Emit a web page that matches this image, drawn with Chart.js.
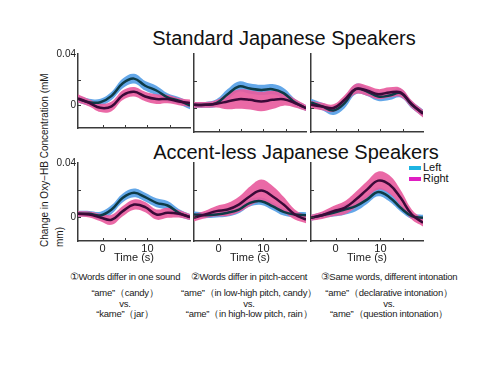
<!DOCTYPE html>
<html>
<head>
<meta charset="utf-8">
<script src="https://cdn.jsdelivr.net/npm/chart.js@4.4.0/dist/chart.umd.min.js"></script>
<style>
  body { margin: 0; background: #fff; }
  #wrap { position: relative; width: 500px; height: 367px; overflow: hidden; font-family: "Liberation Sans", Arial, sans-serif; color: #111; }
  canvas.panel { position: absolute; }
  .title { position: absolute; font-size: 20px; white-space: nowrap; transform: translate(-50%, -50%); color: #111; }
  .ylab { position: absolute; left: 37px; top: 247px; width: 220px; font-size: 10px; line-height: 15px; white-space: nowrap; transform-origin: 0 0; transform: rotate(-90deg); color: #1a1a1a; }
  .leg { position: absolute; font-size: 11px; white-space: nowrap; color: #111; }
  .leg span { display: inline-block; width: 12px; height: 4px; vertical-align: middle; margin-right: 2px; }
  .cap { position: absolute; width: 180px; text-align: center; font-size: 9.5px; letter-spacing: -0.25px; white-space: nowrap; color: #1a1a1a; }
  .cap .head { line-height: 12px; height: 17px; }
  .cap .sub { line-height: 10.5px; }
</style>
</head>
<body>
<div id="wrap">
  <div class="title" style="left:284px; top:38px;">Standard Japanese Speakers</div>
  <div class="title" style="left:296px; top:152px;">Accent-less Japanese Speakers</div>
  <div class="ylab">Change in Oxy−HB Concentration (mM<br>mm)</div>
  <div class="leg" style="left:409px; top:161px;"><span style="background:#1db4e2"></span>Left</div>
  <div class="leg" style="left:409px; top:172px;"><span style="background:#e01ec2"></span>Right</div>
  <div class="cap" style="left:35px; top:271px;">
    <div class="head">①Words differ in one sound</div>
    <div class="sub">“ame”（candy）<br>vs.<br>“kame”（jar）</div>
  </div>
  <div class="cap" style="left:159px; top:271px;">
    <div class="head">②Words differ in pitch-accent</div>
    <div class="sub">“ame”（in low-high pitch, candy）<br>vs.<br>“ame”（in high-low pitch, rain）</div>
  </div>
  <div class="cap" style="left:299px; top:271px;">
    <div class="head">③Same words, different intonation</div>
    <div class="sub">“ame”（declarative intonation）<br>vs.<br>“ame”（question intonation）</div>
  </div>
</div>
<script>
// Time points (s)
const times = [-5.5, -3, -0.5, 2, 4.5, 7, 9.5, 12, 14.5, 17, 19.5];

// Standard Japanese speakers - mean change and band half-width
const stdLeft1 = [0.0047, 0.0022, 0.0022, 0.0072, 0.017, 0.0207, 0.0151, 0.0114, 0.006, 0.0035, -0.0005];
const stdRight1 = [0.0052, 0.0017, -0.0022, -0.001, 0.0077, 0.0104, 0.0067, 0.0047, 0.0047, 0.0027, 0.0015];
const stdSpreadL1 = [0.0028, 0.0028, 0.0028, 0.0033, 0.0038, 0.0038, 0.0038, 0.0038, 0.0033, 0.0028, 0.0028];
const stdSpreadR1 = [0.0033, 0.0028, 0.0033, 0.0038, 0.0038, 0.0038, 0.0038, 0.0038, 0.0033, 0.0028, 0.0028];

const stdLeft2 = [0.0022, 0.0022, 0.0035, 0.0101, 0.0158, 0.0143, 0.0133, 0.0138, 0.0109, 0.004, -0.0002];
const stdRight2 = [0.0022, 0.0022, 0.003, 0.0047, 0.0064, 0.0059, 0.0047, 0.0059, 0.0064, 0.0035, -0.0002];
const stdSpreadL2 = [0.0022, 0.0022, 0.0028, 0.0038, 0.0038, 0.0038, 0.0038, 0.0038, 0.0038, 0.0028, 0.0022];
const stdSpreadR2 = [0.0022, 0.0022, 0.0028, 0.0058, 0.0072, 0.0072, 0.0072, 0.0068, 0.0048, 0.0032, 0.0022];

const stdLeft3 = [0.004, 0.001, -0.002, 0.0035, 0.0138, 0.0121, 0.0084, 0.0091, 0.0109, 0.0022, -0.004];
const stdRight3 = [0.0022, 0.001, -0.0002, 0.006, 0.014, 0.0128, 0.0101, 0.0114, 0.0114, 0.0027, -0.0044];
const stdSpreadL3 = [0.0028, 0.0028, 0.0033, 0.0038, 0.0038, 0.0033, 0.0033, 0.0033, 0.0033, 0.0028, 0.0028];
const stdSpreadR3 = [0.0028, 0.0028, 0.0028, 0.0033, 0.0038, 0.0038, 0.0038, 0.0038, 0.0033, 0.0028, 0.0028];

// Accent-less Japanese speakers
const accLeft1 = [0.0022, 0.0022, 0.001, 0.0054, 0.0141, 0.0178, 0.0146, 0.0104, 0.0084, 0.003, -0.0002];
const accRight1 = [0.0022, 0.0017, -0.0005, -0.0022, 0.0042, 0.0091, 0.0072, 0.0017, 0.003, 0.0022, -0.0002];
const accSpreadL1 = [0.0022, 0.0022, 0.0028, 0.0033, 0.0033, 0.0033, 0.0033, 0.0033, 0.0033, 0.0028, 0.0022];
const accSpreadR1 = [0.0022, 0.0022, 0.0028, 0.0038, 0.0038, 0.0038, 0.0038, 0.0038, 0.0038, 0.0028, 0.0022];

const accLeft2 = [0.0017, 0.0012, 0.0017, 0.003, 0.0054, 0.0104, 0.0116, 0.0079, 0.0037, 0.0017, 0.0012];
const accRight2 = [-0.0007, 0.0017, 0.0042, 0.0054, 0.0091, 0.0153, 0.0195, 0.0153, 0.0091, 0.0017, -0.002];
const accSpreadL2 = [0.0022, 0.0022, 0.0022, 0.0028, 0.0028, 0.0028, 0.0028, 0.0028, 0.0028, 0.0022, 0.0022];
const accSpreadR2 = [0.0028, 0.0028, 0.0038, 0.0048, 0.0058, 0.0072, 0.0082, 0.0078, 0.0058, 0.0038, 0.0028];

const accLeft3 = [-0.0007, 0.0012, 0.003, 0.0054, 0.0079, 0.0128, 0.0185, 0.0146, 0.0067, 0.0005, -0.0007];
const accRight3 = [-0.0007, 0.0012, 0.0042, 0.0067, 0.0128, 0.0202, 0.0269, 0.024, 0.0141, 0.0017, -0.0044];
const accSpreadL3 = [0.0022, 0.0022, 0.0028, 0.0038, 0.0038, 0.0033, 0.0033, 0.0033, 0.0028, 0.0022, 0.0022];
const accSpreadR3 = [0.0022, 0.0028, 0.0038, 0.0048, 0.0058, 0.0062, 0.0068, 0.0068, 0.0058, 0.0038, 0.0028];

// Axis ticks
const xTickLabels = [0, 10];
const xTickMarks = [0, 5, 10, 15];
const yTickLabels = [0, 0.04];
const yTickMarks = [0.02, 0];

const BLUE_BAND = 'rgba(86,160,230,0.92)';
const PINK_BAND = 'rgba(232,92,158,0.92)';
const LEFT_LINE = '#0e3b46';
const RIGHT_LINE = '#3a0a38';

// Panel layout: chart area left/top in page px, 112 x 78 each
const panels = [
    { left: 78, top: 54, bottom: false, yLabels: true, L: stdLeft1, R: stdRight1, sL: stdSpreadL1, sR: stdSpreadR1 },
    { left: 194, top: 54, bottom: false, yLabels: false, L: stdLeft2, R: stdRight2, sL: stdSpreadL2, sR: stdSpreadR2 },
    { left: 311, top: 54, bottom: false, yLabels: false, L: stdLeft3, R: stdRight3, sL: stdSpreadL3, sR: stdSpreadR3 },
    { left: 78, top: 163, bottom: true, yLabels: true, L: accLeft1, R: accRight1, sL: accSpreadL1, sR: accSpreadR1 },
    { left: 194, top: 163, bottom: true, yLabels: false, L: accLeft2, R: accRight2, sL: accSpreadL2, sR: accSpreadR2 },
    { left: 311, top: 163, bottom: true, yLabels: false, L: accLeft3, R: accRight3, sL: accSpreadL3, sR: accSpreadR3 }
];

const PAD_TOP = 8, PAD_RIGHT = 4, Y_W = 30, AREA_W = 112, AREA_H = 78;

const band = (mean, spread, sign) => times.map((t, i) => ({ x: t, y: mean[i] + sign * spread[i] }));
const line = mean => times.map((t, i) => ({ x: t, y: mean[i] }));

// small inward tick marks, matlab style
const inwardTicks = {
    id: 'inwardTicks',
    afterDraw(chart) {
        const { ctx, chartArea, scales } = chart;
        ctx.save();
        ctx.strokeStyle = '#3a3a3a';
        ctx.lineWidth = 1;
        xTickMarks.forEach(v => {
            const px = Math.round(scales.x.getPixelForValue(v)) + 0.5;
            ctx.beginPath();
            ctx.moveTo(px, chartArea.bottom);
            ctx.lineTo(px, chartArea.bottom - 3);
            ctx.stroke();
        });
        yTickMarks.forEach(v => {
            const py = Math.round(scales.y.getPixelForValue(v)) + 0.5;
            ctx.beginPath();
            ctx.moveTo(chartArea.left, py);
            ctx.lineTo(chartArea.left + 3, py);
            ctx.stroke();
        });
        ctx.restore();
    }
};

const wrap = document.getElementById('wrap');

panels.forEach(p => {
    const xH = p.bottom ? 30 : 4;
    const canvas = document.createElement('canvas');
    canvas.className = 'panel';
    canvas.width = AREA_W + Y_W + PAD_RIGHT;
    canvas.height = AREA_H + PAD_TOP + xH;
    canvas.style.left = (p.left - Y_W) + 'px';
    canvas.style.top = (p.top - PAD_TOP) + 'px';
    canvas.style.width = canvas.width + 'px';
    canvas.style.height = canvas.height + 'px';
    wrap.appendChild(canvas);

    const common = { pointRadius: 0, tension: 0.4 };

    new Chart(canvas.getContext('2d'), {
        type: 'line',
        data: {
            datasets: [
                { ...common, data: band(p.L, p.sL, -1), borderWidth: 0, fill: false, order: 10 },
                { ...common, data: band(p.L, p.sL, 1), borderWidth: 0, fill: 0, backgroundColor: BLUE_BAND, order: 9 },
                { ...common, data: band(p.R, p.sR, -1), borderWidth: 0, fill: false, order: 8 },
                { ...common, data: band(p.R, p.sR, 1), borderWidth: 0, fill: 2, backgroundColor: PINK_BAND, order: 7 },
                { ...common, data: line(p.L), borderColor: LEFT_LINE, borderWidth: 2.5, fill: false, order: 2 },
                { ...common, data: line(p.R), borderColor: RIGHT_LINE, borderWidth: 2.5, fill: false, order: 1 }
            ]
        },
        options: {
            responsive: false,
            animation: false,
            devicePixelRatio: 1,
            layout: { padding: { top: PAD_TOP, right: PAD_RIGHT, left: 0, bottom: 0 } },
            plugins: {
                legend: { display: false },
                tooltip: { enabled: false }
            },
            scales: {
                x: {
                    type: 'linear',
                    min: -5.5,
                    max: 19.5,
                    grid: { display: false, drawTicks: false },
                    border: { color: '#3a3a3a', width: 1.5 },
                    ticks: {
                        display: p.bottom,
                        padding: 1,
                        color: '#222',
                        font: { family: 'Liberation Sans', size: 11 }
                    },
                    afterBuildTicks: s => { s.ticks = xTickLabels.map(v => ({ value: v })); },
                    title: {
                        display: p.bottom,
                        text: 'Time (s)',
                        color: '#222',
                        font: { family: 'Liberation Sans', size: 11 },
                        padding: { top: 0, bottom: 6 }
                    },
                    afterFit: s => { s.height = xH; }
                },
                y: {
                    min: -0.018,
                    max: 0.04,
                    grid: { display: false, drawTicks: false },
                    border: { color: '#3a3a3a', width: 1.5 },
                    ticks: {
                        display: p.yLabels,
                        padding: 2,
                        color: '#222',
                        font: { family: 'Liberation Sans', size: 10 },
                        callback: v => (v === 0 ? '0' : String(v))
                    },
                    afterBuildTicks: s => { s.ticks = yTickLabels.map(v => ({ value: v })); },
                    afterFit: s => { s.width = Y_W; }
                }
            }
        },
        plugins: [inwardTicks]
    });
});
</script>
</body>
</html>
